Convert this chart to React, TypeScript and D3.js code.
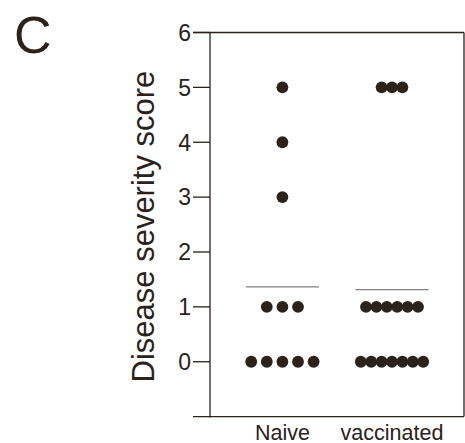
import React from "react";
import * as d3 from "d3";

const categories = ["Naive", "vaccinated"];
// scores per animal
const naiveScores = [0, 0, 0, 0, 0, 1, 1, 1, 3, 4, 5];
const vaccinatedScores = [0, 0, 0, 0, 0, 0, 0, 1, 1, 1, 1, 1, 1, 5, 5, 5];
const yTicks = [0, 1, 2, 3, 4, 5, 6];
const yLabel = "Disease severity score";
const panelLetter = "C";

const W = 465;
const H = 443;
const ink = "#2a221b";
const font = "'Liberation Sans', Arial, Helvetica, sans-serif";

export default function App() {
  const y = d3.scaleLinear().domain([-1, 6]).range([416.6, 32.5]);
  const x = d3.scalePoint<string>().domain(categories).range([282.4, 392]);
  const left = 210;
  const right = 464;
  const tickLen = 17;
  const series = [
    { name: categories[0], values: naiveScores, spacing: 15.6 },
    { name: categories[1], values: vaccinatedScores, spacing: 10.4 },
  ];

  const dots: { cx: number; cy: number; key: string }[] = [];
  const means: { x: number; y: number; key: string }[] = [];
  series.forEach((s) => {
    const groups = d3.group(s.values, (v) => v);
    groups.forEach((vals, v) => {
      const n = vals.length;
      vals.forEach((_, i) => {
        dots.push({
          cx: (x(s.name) as number) + (i - (n - 1) / 2) * s.spacing,
          cy: y(v),
          key: `${s.name}-${v}-${i}`,
        });
      });
    });
    means.push({ x: x(s.name) as number, y: y(d3.mean(s.values) as number), key: s.name });
  });

  return (
    <div style={{ position: "absolute", left: 0, top: 0 }}>
      <svg width={W} height={H} style={{ display: "block", background: "#fff" }}>
        <text x={14} y={53} fontSize={52} fontFamily={font} fill={ink}>
          {panelLetter}
        </text>
        <text
          transform={`translate(154,${(y(6) + y(-1)) / 2 + 2}) rotate(-90)`}
          textAnchor="middle"
          fontSize={31}
          fontFamily={font}
          fill={ink}
        >
          {yLabel}
        </text>
        {/* frame */}
        <line x1={left} x2={left} y1={y(6) - 0.5} y2={y(-1) + 1} stroke={ink} strokeWidth={1.3} />
        <line x1={left - tickLen} x2={right} y1={y(6)} y2={y(6)} stroke={ink} strokeWidth={1.3} />
        <line x1={left - tickLen} x2={right} y1={y(-1)} y2={y(-1)} stroke={ink} strokeWidth={1.3} />
        <line x1={right} x2={right} y1={y(6)} y2={y(-1)} stroke={ink} strokeWidth={1.3} />
        {yTicks.map((t) => (
          <g key={t}>
            <line x1={left - tickLen} x2={left} y1={y(t)} y2={y(t)} stroke={ink} strokeWidth={1.3} />
            <text
              x={left - tickLen - 2}
              y={y(t) + 8.3}
              textAnchor="end"
              fontSize={23}
              fontFamily={font}
              fill={ink}
            >
              {t}
            </text>
          </g>
        ))}
        {categories.map((c) => (
          <text
            key={c}
            x={x(c) as number}
            y={440}
            textAnchor="middle"
            fontSize={21.5}
            fontFamily={font}
            fill={ink}
          >
            {c}
          </text>
        ))}
        {means.map((m) => (
          <line
            key={m.key}
            x1={m.x - 36.5}
            x2={m.x + 36.5}
            y1={m.y}
            y2={m.y}
            stroke="#808080"
            strokeWidth={1.3}
          />
        ))}
        {dots.map((d) => (
          <circle key={d.key} cx={d.cx} cy={d.cy} r={5.9} fill={ink} />
        ))}
      </svg>
    </div>
  );
}
